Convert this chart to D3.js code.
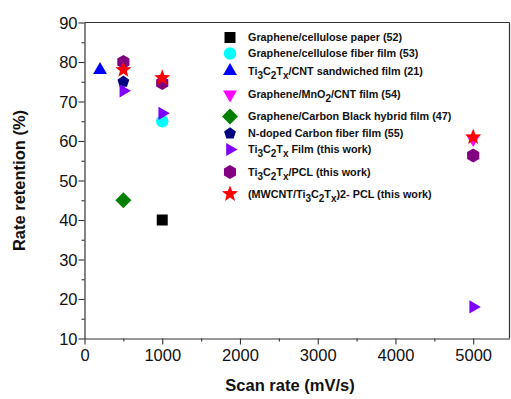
<!DOCTYPE html>
<html><head><meta charset="utf-8">
<script src="https://cdn.jsdelivr.net/npm/d3@7"></script>
<style>html,body{margin:0;padding:0;background:#fff;}svg{display:block;}</style>
</head><body>
<script>
// ---- data ----
const seriesNames = [
  "Graphene/cellulose paper (52)",
  "Graphene/cellulose fiber film (53)",
  "Ti3C2Tx/CNT sandwiched film (21)",
  "Graphene/MnO2/CNT film (54)",
  "Graphene/Carbon Black hybrid film (47)",
  "N-doped Carbon fiber film (55)",
  "Ti3C2Tx Film (this work)",
  "Ti3C2Tx/PCL (this work)",
  "(MWCNT/Ti3C2Tx)2- PCL (this work)"
];
const seriesX = [
  [1000],
  [1000],
  [200],
  [5000],
  [500],
  [500],
  [500, 1000, 5000],
  [500, 1000, 5000],
  [500, 1000, 5000]
];
const seriesY = [
  [40],
  [65],
  [78],
  [60.5],
  [45],
  [75],
  [72.7, 67, 18],
  [80, 74.7, 56.3],
  [78, 76, 61]
];
const xTicks = [0, 1000, 2000, 3000, 4000, 5000];
const yTicks = [10, 20, 30, 40, 50, 60, 70, 80, 90];
const xTitle = "Scan rate (mV/s)";
const yTitle = "Rate retention (%)";

// ---- styles ----
const colors = ["#000000", "#00ffff", "#0000ff", "#ff00ff", "#008000", "#000080", "#8000ff", "#800080", "#ff0000"];
const shapes = ["square", "circle", "triUp", "triDown", "diamond", "pentagon", "triRight", "hexagon", "star"];

const W = 511, H = 399;
const M = {left: 84.5, right: 509.5, top: 22.5, bottom: 338.5};
const FONT = "'Liberation Sans', Arial, sans-serif";

const svg = d3.select("body").append("svg").attr("width", W).attr("height", H)
  .style("font-family", FONT);
svg.append("rect").attr("width", W).attr("height", H).attr("fill", "#fff");

const x = d3.scaleLinear().domain([0, 5467]).range([M.left, M.right]);
const y = d3.scaleLinear().domain([10, 90]).range([M.bottom, M.top]);

function poly(n, r, rot) {
  const pts = [];
  for (let i = 0; i < n; i++) {
    const a = rot + i * 2 * Math.PI / n;
    pts.push([r * Math.cos(a), r * Math.sin(a)]);
  }
  return "M" + pts.map(p => p[0].toFixed(2) + "," + p[1].toFixed(2)).join("L") + "Z";
}
function starPath(ro, ri) {
  const pts = [];
  for (let i = 0; i < 10; i++) {
    const a = -Math.PI / 2 + i * Math.PI / 5;
    const r = i % 2 ? ri : ro;
    pts.push([r * Math.cos(a), r * Math.sin(a)]);
  }
  return "M" + pts.map(p => p[0].toFixed(2) + "," + p[1].toFixed(2)).join("L") + "Z";
}
function shapePath(s) {
  switch (s) {
    case "square": return "M-5.5,-5.5H5.5V5.5H-5.5Z";
    case "circle": return d3.symbol(d3.symbolCircle, Math.PI * 6.2 * 6.2)();
    case "triUp": return poly(3, 8, -Math.PI / 2);
    case "triDown": return poly(3, 8, Math.PI / 2);
    case "diamond": return poly(4, 8, -Math.PI / 2);
    case "pentagon": return poly(5, 6.2, -Math.PI / 2);
    case "triRight": return poly(3, 7.6, 0);
    case "hexagon": return poly(6, 7, -Math.PI / 2);
    case "star": return starPath(8.5, 3.6);
  }
}

// frame lines (top, right)
svg.append("line").attr("x1", M.left).attr("x2", M.right).attr("y1", M.top).attr("y2", M.top)
  .attr("stroke", "#333").attr("stroke-width", 1.2);
svg.append("line").attr("x1", M.right).attr("x2", M.right).attr("y1", M.top).attr("y2", M.bottom)
  .attr("stroke", "#333").attr("stroke-width", 1.2);

// axes
const xAxis = svg.append("g").attr("transform", `translate(0,${M.bottom})`)
  .call(d3.axisBottom(x).tickValues(xTicks).tickSize(6).tickSizeOuter(0).tickFormat(d3.format("d")));
const xMinor = svg.append("g").attr("transform", `translate(0,${M.bottom})`)
  .call(d3.axisBottom(x).tickValues(d3.range(500, 5500, 1000)).tickSize(3).tickSizeOuter(0).tickFormat(""));
xMinor.select(".domain").remove();
const yAxis = svg.append("g").attr("transform", `translate(${M.left},0)`)
  .call(d3.axisLeft(y).tickValues(yTicks).tickSize(6).tickSizeOuter(0));
const yMinor = svg.append("g").attr("transform", `translate(${M.left},0)`)
  .call(d3.axisLeft(y).tickValues(d3.range(15, 90, 10)).tickSize(3).tickSizeOuter(0).tickFormat(""));
yMinor.select(".domain").remove();

svg.selectAll(".domain").attr("stroke", "#333").attr("stroke-width", 1.2);
svg.selectAll(".tick line").attr("stroke", "#333").attr("stroke-width", 1.1);
xAxis.selectAll("text").attr("font-size", 16.5).attr("font-family", FONT).attr("fill", "#111").attr("dy", "0.95em").attr("y", 7);
yAxis.selectAll("text").attr("font-size", 16.5).attr("font-family", FONT).attr("fill", "#111").attr("x", -7).attr("dy", "0.34em");

// titles
svg.append("text").attr("x", 290).attr("y", 391).attr("text-anchor", "middle")
  .attr("font-size", 16.5).attr("font-weight", "bold").attr("fill", "#111").text(xTitle);
svg.append("text").attr("transform", `translate(25,${(M.top + M.bottom) / 2}) rotate(-90)`)
  .attr("text-anchor", "middle").attr("font-size", 16.5).attr("font-weight", "bold").attr("fill", "#111").text(yTitle);

// points
seriesNames.forEach((name, i) => {
  const pts = seriesX[i].map((xv, j) => [xv, seriesY[i][j]]);
  svg.append("g").selectAll("path").data(pts).join("path")
    .attr("d", shapePath(shapes[i]))
    .attr("transform", d => `translate(${x(d[0])},${y(d[1])})`)
    .attr("fill", colors[i]);
});

// legend
const legendRows = [37.5, 53.5, 71, 94.5, 116.5, 133.5, 149.5, 172, 194];
function sub(t, s) {
  t.append("tspan").text(s).attr("baseline-shift", "-38%").attr("font-size", 10);
}
function addLabel(g, name) {
  const t = g.append("text").attr("x", 18).attr("y", 0).attr("dy", "0.35em")
    .attr("font-size", 10.8).attr("font-weight", "bold").attr("fill", "#111");
  const parts = name.split(/(Ti3C2Tx|MnO2)/);
  parts.forEach(p => {
    if (p === "Ti3C2Tx") {
      t.append("tspan").text("Ti"); sub(t, "3");
      t.append("tspan").text("C"); sub(t, "2");
      t.append("tspan").text("T"); sub(t, "x");
    } else if (p === "MnO2") {
      t.append("tspan").text("MnO"); sub(t, "2");
    } else if (p.length) {
      t.append("tspan").text(p);
    }
  });
}
seriesNames.forEach((name, i) => {
  const g = svg.append("g").attr("transform", `translate(230,${legendRows[i]})`);
  g.append("path").attr("d", shapePath(shapes[i])).attr("fill", colors[i]);
  addLabel(g, name);
});
</script>
</body></html>
